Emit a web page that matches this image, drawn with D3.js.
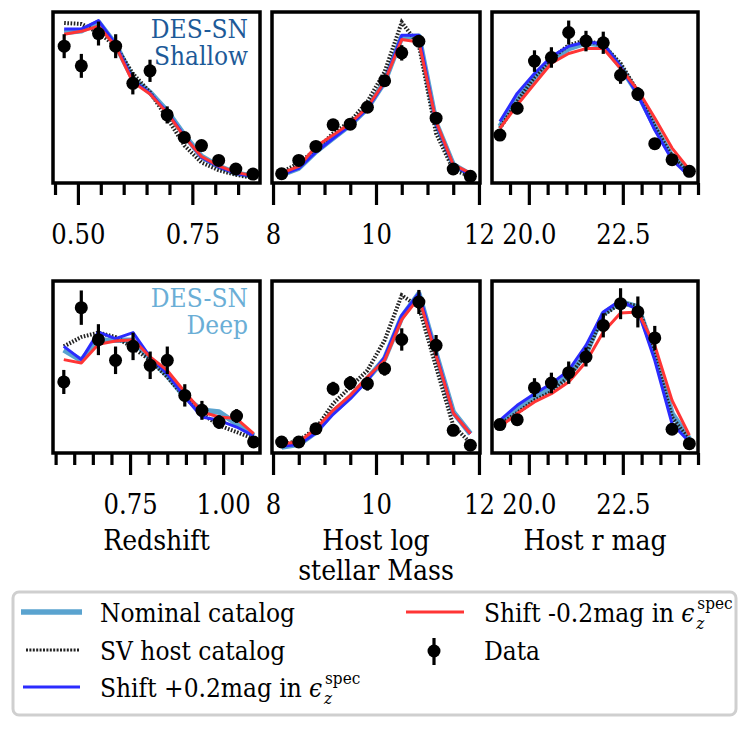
<!DOCTYPE html>
<html>
<head>
<meta charset="utf-8">
<script src="https://cdn.jsdelivr.net/npm/d3@7"></script>
<style>
  body { margin: 0; background: #fff; }
  svg text { font-family: "DejaVu Serif", "Liberation Serif", "Times New Roman", serif !important; font-stretch: condensed; fill: #000; }
</style>
</head>
<body>
<div id="chart"></div>
<script>
// bin centres
const zShallowX = [0.47, 0.5075, 0.545, 0.5825, 0.62, 0.6575, 0.695, 0.7325, 0.77, 0.8075, 0.845, 0.8825];
const zDeepX = [0.572, 0.619, 0.665, 0.711, 0.758, 0.804, 0.85, 0.897, 0.943, 0.989, 1.036, 1.082];
const massX = [8.167, 8.5, 8.833, 9.167, 9.5, 9.833, 10.167, 10.5, 10.833, 11.167, 11.5, 11.833];
const magX = [19.23, 19.69, 20.15, 20.60, 21.06, 21.52, 21.98, 22.44, 22.90, 23.35, 23.81, 24.27];

// Shallow, redshift
const zShallowData = [0.80, 0.685, 0.874, 0.80, 0.583, 0.656, 0.398, 0.266, 0.219, 0.132, 0.082, 0.052];
const zShallowErr = [0.07, 0.07, 0.07, 0.07, 0.065, 0.065, 0.05, 0.025, 0.02, 0.02, 0.015, 0.01];
const zShallowNominal = [0.88, 0.89, 0.94, 0.81, 0.61, 0.53, 0.42, 0.28, 0.155, 0.097, 0.058, 0.04];
const zShallowSV = [0.936, 0.93, 0.88, 0.80, 0.64, 0.53, 0.38, 0.22, 0.12, 0.075, 0.048, 0.03];
const zShallowPlus = [0.90, 0.90, 0.95, 0.81, 0.60, 0.525, 0.415, 0.275, 0.15, 0.095, 0.056, 0.04];
const zShallowMinus = [0.87, 0.887, 0.917, 0.80, 0.59, 0.52, 0.41, 0.27, 0.155, 0.10, 0.062, 0.043];

// Shallow, stellar mass
const massShallowData = [0.054, 0.132, 0.214, 0.34, 0.344, 0.443, 0.598, 0.761, 0.829, 0.379, 0.082, 0.039];
const massShallowErr = [0.01, 0.015, 0.02, 0.02, 0.02, 0.02, 0.025, 0.045, 0.03, 0.03, 0.015, 0.01];
const massShallowNominal = [0.049, 0.087, 0.184, 0.262, 0.34, 0.437, 0.592, 0.854, 0.858, 0.35, 0.107, 0.049];
const massShallowSV = [0.062, 0.117, 0.194, 0.29, 0.36, 0.476, 0.65, 0.94, 0.806, 0.29, 0.078, 0.039];
const massShallowPlus = [0.047, 0.085, 0.18, 0.26, 0.338, 0.435, 0.59, 0.864, 0.864, 0.35, 0.105, 0.047];
const massShallowMinus = [0.058, 0.097, 0.214, 0.28, 0.35, 0.443, 0.592, 0.839, 0.825, 0.36, 0.107, 0.058];

// Shallow, r mag
const magShallowData = [0.28, 0.437, 0.713, 0.734, 0.88, 0.83, 0.82, 0.63, 0.52, 0.23, 0.136, 0.068];
const magShallowErr = [0.02, 0.035, 0.063, 0.06, 0.07, 0.06, 0.065, 0.05, 0.04, 0.02, 0.02, 0.015];
const magShallowNominal = [0.33, 0.485, 0.61, 0.72, 0.786, 0.82, 0.806, 0.68, 0.524, 0.33, 0.155, 0.068];
const magShallowSV = [0.32, 0.476, 0.62, 0.728, 0.806, 0.835, 0.806, 0.70, 0.534, 0.33, 0.155, 0.058];
const magShallowPlus = [0.36, 0.524, 0.64, 0.74, 0.80, 0.825, 0.815, 0.68, 0.515, 0.31, 0.136, 0.039];
const magShallowMinus = [0.32, 0.456, 0.58, 0.70, 0.757, 0.786, 0.786, 0.67, 0.544, 0.38, 0.204, 0.078];

// Deep, redshift
const zDeepData = [0.413, 0.845, 0.659, 0.539, 0.62, 0.51, 0.539, 0.335, 0.248, 0.18, 0.215, 0.064];
const zDeepErr = [0.07, 0.10, 0.09, 0.08, 0.08, 0.08, 0.08, 0.065, 0.055, 0.04, 0.04, 0.015];
const zDeepNominal = [0.60, 0.539, 0.655, 0.655, 0.655, 0.548, 0.45, 0.326, 0.248, 0.238, 0.17, 0.10];
const zDeepSV = [0.62, 0.674, 0.70, 0.674, 0.612, 0.539, 0.442, 0.326, 0.229, 0.16, 0.122, 0.083];
const zDeepPlus = [0.62, 0.543, 0.703, 0.665, 0.70, 0.558, 0.46, 0.326, 0.209, 0.19, 0.151, 0.10];
const zDeepMinus = [0.543, 0.523, 0.632, 0.651, 0.659, 0.558, 0.48, 0.355, 0.238, 0.209, 0.20, 0.112];

// Deep, stellar mass
const massDeepData = [0.064, 0.064, 0.141, 0.374, 0.407, 0.403, 0.49, 0.66, 0.878, 0.626, 0.132, 0.045];
const massDeepErr = [0.015, 0.015, 0.02, 0.04, 0.04, 0.04, 0.04, 0.065, 0.07, 0.06, 0.03, 0.015];
const massDeepNominal = [0.035, 0.05, 0.122, 0.238, 0.326, 0.432, 0.548, 0.79, 0.926, 0.577, 0.238, 0.112];
const massDeepSV = [0.045, 0.074, 0.141, 0.287, 0.384, 0.48, 0.655, 0.917, 0.849, 0.50, 0.16, 0.058];
const massDeepPlus = [0.039, 0.05, 0.116, 0.225, 0.316, 0.422, 0.558, 0.80, 0.93, 0.577, 0.233, 0.112];
const massDeepMinus = [0.054, 0.064, 0.141, 0.248, 0.335, 0.442, 0.539, 0.775, 0.903, 0.568, 0.233, 0.112];

// Deep, r mag
const magDeepData = [0.165, 0.194, 0.38, 0.407, 0.467, 0.558, 0.742, 0.868, 0.82, 0.669, 0.138, 0.054];
const magDeepErr = [0.02, 0.025, 0.055, 0.06, 0.065, 0.055, 0.07, 0.09, 0.09, 0.07, 0.03, 0.02];
const magDeepNominal = [0.17, 0.258, 0.326, 0.374, 0.45, 0.577, 0.81, 0.878, 0.849, 0.577, 0.229, 0.083];
const magDeepSV = [0.167, 0.233, 0.306, 0.355, 0.442, 0.577, 0.80, 0.872, 0.855, 0.568, 0.209, 0.074];
const magDeepPlus = [0.19, 0.277, 0.345, 0.403, 0.48, 0.626, 0.82, 0.888, 0.83, 0.539, 0.17, 0.064];
const magDeepMinus = [0.151, 0.229, 0.297, 0.345, 0.413, 0.529, 0.703, 0.814, 0.82, 0.626, 0.306, 0.103];

// tick labels
const zShallowTicks = [0.50, 0.75];
const zDeepTicks = [0.75, 1.00];
const massTicks = [8, 10, 12];
const magTicks = [20.0, 22.5];

const axisLabels = [["Redshift"], ["Host log", "stellar Mass"], ["Host r mag"]];
const sampleNames = [["DES-SN", "Shallow"], ["DES-SN", "Deep"]];
const legendNames = ["Nominal catalog", "SV host catalog", "Shift +0.2mag in", "Shift -0.2mag in", "Data"];

const colors = {nominal: "#5aa3cf", sv: "#222", plus: "#2b2bff", minus: "#ff3535"};
const nameColors = ["#1d5a98", "#6aaed6"];

const W = 748, H = 731;
const svg = d3.select("#chart").append("svg")
	.attr("width", W)
	.attr("height", H);
svg.append("rect").attr("width", W).attr("height", H).attr("fill", "#fff");

const cols = [[53, 260], [272, 480], [492, 698]];
const rows = [[12, 183], [281, 453]];

const panels = [
	{row: 0, col: 0, x: zShallowX, domain: [0.4456, 0.8978], major: zShallowTicks, minorStep: 0.05, fmt: d3.format(".2f"),
	 data: zShallowData, err: zShallowErr, nominal: zShallowNominal, sv: zShallowSV, plus: zShallowPlus, minus: zShallowMinus},
	{row: 0, col: 1, x: massX, domain: [7.98, 12.02], major: massTicks, minorStep: 0.5, fmt: d3.format("d"),
	 data: massShallowData, err: massShallowErr, nominal: massShallowNominal, sv: massShallowSV, plus: massShallowPlus, minus: massShallowMinus},
	{row: 0, col: 2, x: magX, domain: [19.02, 24.5], major: magTicks, minorStep: 0.5, fmt: d3.format(".1f"),
	 data: magShallowData, err: magShallowErr, nominal: magShallowNominal, sv: magShallowSV, plus: magShallowPlus, minus: magShallowMinus},
	{row: 1, col: 0, x: zDeepX, domain: [0.543, 1.099], major: zDeepTicks, minorStep: 0.05, fmt: d3.format(".2f"),
	 data: zDeepData, err: zDeepErr, nominal: zDeepNominal, sv: zDeepSV, plus: zDeepPlus, minus: zDeepMinus},
	{row: 1, col: 1, x: massX, domain: [7.98, 12.02], major: massTicks, minorStep: 0.5, fmt: d3.format("d"),
	 data: massDeepData, err: massDeepErr, nominal: massDeepNominal, sv: massDeepSV, plus: massDeepPlus, minus: massDeepMinus},
	{row: 1, col: 2, x: magX, domain: [19.02, 24.5], major: magTicks, minorStep: 0.5, fmt: d3.format(".1f"),
	 data: magDeepData, err: magDeepErr, nominal: magDeepNominal, sv: magDeepSV, plus: magDeepPlus, minus: magDeepMinus}
];

panels.forEach(p => {
	const [x0, x1] = cols[p.col];
	const [y0, y1] = rows[p.row];

	const xScale = d3.scaleLinear().domain(p.domain).range([x0, x1]);
	const yScale = d3.scaleLinear().domain([0, 1]).range([y1, y0]);

	const g = svg.append("g");

	// minor ticks
	const lo = Math.ceil(p.domain[0] / p.minorStep - 1e-6) * p.minorStep;
	const minor = d3.range(lo, p.domain[1] + 1e-6, p.minorStep)
		.filter(v => !p.major.some(m => Math.abs(m - v) < 1e-6));

	g.append("g")
		.attr("transform", `translate(0, ${y1})`)
		.call(d3.axisBottom(xScale).tickValues(minor).tickSize(12).tickFormat(""))
		.call(a => a.select(".domain").remove())
		.call(a => a.selectAll("line").attr("stroke", "#000").attr("stroke-width", 3.2));

	g.append("g")
		.attr("transform", `translate(0, ${y1})`)
		.call(d3.axisBottom(xScale).tickValues(p.major).tickSize(22).tickPadding(20).tickFormat(p.fmt))
		.call(a => a.select(".domain").remove())
		.call(a => a.selectAll("line").attr("stroke", "#000").attr("stroke-width", 3.2))
		.call(a => a.selectAll("text")
			.attr("font-size", 27)
			.attr("fill", "#000"));

	const line = ys => d3.line()
		.x((d, i) => xScale(p.x[i]))
		.y(d => yScale(d))(ys);

	g.append("path").attr("d", line(p.nominal))
		.attr("fill", "none").attr("stroke", colors.nominal).attr("stroke-width", 5.5).attr("stroke-linejoin", "round");
	g.append("path").attr("d", line(p.sv))
		.attr("fill", "none").attr("stroke", colors.sv).attr("stroke-width", 4).attr("stroke-dasharray", "1.6,1.6");
	g.append("path").attr("d", line(p.plus))
		.attr("fill", "none").attr("stroke", colors.plus).attr("stroke-width", 3).attr("stroke-linejoin", "round");
	g.append("path").attr("d", line(p.minus))
		.attr("fill", "none").attr("stroke", colors.minus).attr("stroke-width", 3).attr("stroke-linejoin", "round");

	// data with error bars
	const pts = p.data.map((v, i) => ({x: p.x[i], y: v, e: p.err[i]}));
	g.selectAll("line.err")
		.data(pts)
		.join("line")
		.attr("class", "err")
		.attr("x1", d => xScale(d.x)).attr("x2", d => xScale(d.x))
		.attr("y1", d => yScale(d.y - d.e)).attr("y2", d => yScale(d.y + d.e))
		.attr("stroke", "#000").attr("stroke-width", 3.2);
	g.selectAll("circle")
		.data(pts)
		.join("circle")
		.attr("cx", d => xScale(d.x))
		.attr("cy", d => yScale(d.y))
		.attr("r", 6.5)
		.attr("fill", "#000");

	// frame
	g.append("rect")
		.attr("x", x0).attr("y", y0)
		.attr("width", x1 - x0).attr("height", y1 - y0)
		.attr("fill", "none").attr("stroke", "#000").attr("stroke-width", 3.5);

	if (p.col === 0) {
		sampleNames[p.row].forEach((t, i) => {
			g.append("text")
				.attr("x", 248).attr("y", y0 + 26 + i * 27)
				.attr("text-anchor", "end")
				.attr("font-size", 26)
				.style("fill", nameColors[p.row])
				.text(t);
		});
	}
});

// axis labels
axisLabels.forEach((lines, c) => {
	const cx = (cols[c][0] + cols[c][1]) / 2;
	lines.forEach((t, i) => {
		svg.append("text")
			.attr("x", cx).attr("y", 550 + i * 30)
			.attr("text-anchor", "middle")
			.attr("font-size", 28)
			.text(t);
	});
});

// legend
const legend = svg.append("g");
legend.append("rect")
	.attr("x", 13).attr("y", 592).attr("width", 723).attr("height", 123)
	.attr("rx", 6).attr("fill", "#fff").attr("stroke", "#cfcfcf").attr("stroke-width", 3);

const legendRows = [
	{x1: 21, x2: 82, y: 612, color: colors.nominal, w: 5.5, dash: null, tx: 100},
	{x1: 26, x2: 79, y: 650, color: colors.sv, w: 3.2, dash: "2,1.4", tx: 100},
	{x1: 23, x2: 80, y: 687, color: colors.plus, w: 3, dash: null, tx: 100},
	{x1: 406, x2: 464, y: 612, color: colors.minus, w: 3, dash: null, tx: 484}
];
legendRows.forEach((r, i) => {
	legend.append("line")
		.attr("x1", r.x1).attr("x2", r.x2).attr("y1", r.y).attr("y2", r.y)
		.attr("stroke", r.color).attr("stroke-width", r.w)
		.attr("stroke-dasharray", r.dash);
	const t = legend.append("text")
		.attr("x", r.tx).attr("y", r.y + 10)
		.attr("font-size", 26)
		.text(legendNames[i]);
	if (i >= 2) {
		const end = r.tx + t.node().getComputedTextLength() + 7;
		const eps = legend.append("text")
			.attr("x", end).attr("y", r.y + 10)
			.attr("font-size", 26).attr("font-style", "italic")
			.text("\u03F5");
		const sx = end + eps.node().getComputedTextLength() + 2;
		legend.append("text")
			.attr("x", sx).attr("y", r.y + 17)
			.attr("font-size", 17).attr("font-style", "italic")
			.text("z");
		legend.append("text")
			.attr("x", sx + 1).attr("y", r.y - 3)
			.attr("font-size", 17)
			.text("spec");
	}
});
// data marker
legend.append("line")
	.attr("x1", 434).attr("x2", 434).attr("y1", 638).attr("y2", 665)
	.attr("stroke", "#000").attr("stroke-width", 3.2);
legend.append("circle").attr("cx", 434).attr("cy", 651).attr("r", 6.5).attr("fill", "#000");
legend.append("text")
	.attr("x", 484).attr("y", 660)
	.attr("font-size", 26)
	.text(legendNames[4]);
</script>
</body>
</html>
